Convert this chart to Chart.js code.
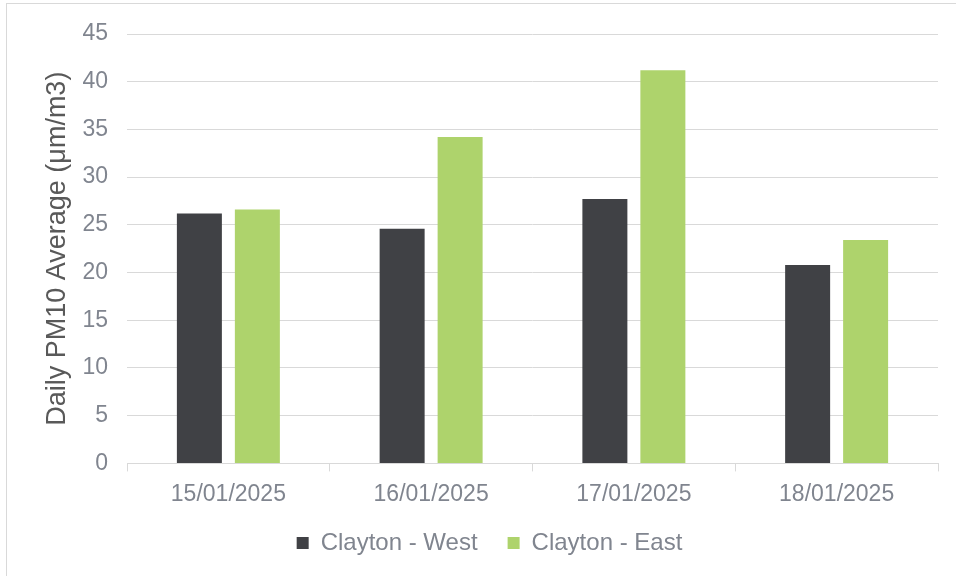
<!DOCTYPE html>
<html>
<head>
<meta charset="utf-8">
<script src="https://cdn.jsdelivr.net/npm/chart.js@4/dist/chart.umd.min.js"></script>
<style>
  html, body { margin: 0; padding: 0; background: #ffffff; }
  #wrap { position: relative; width: 956px; height: 576px; }
</style>
</head>
<body>
<div id="wrap"><canvas id="chart" width="956" height="576"></canvas></div>
<script>
// Daily PM10 averages at the two Clayton monitoring sites
const dates = ['15/01/2025', '16/01/2025', '17/01/2025', '18/01/2025'];
const claytonWest = [26.2, 24.6, 27.7, 20.8];
const claytonEast = [26.6, 34.2, 41.2, 23.4];
const yTicks = [0, 5, 10, 15, 20, 25, 30, 35, 40, 45];

const TEXT = '#80858f';
const GRID = '#d9d9d9';
const FONT = "'Liberation Sans', Arial, sans-serif";

// light frame around the whole figure
const framePlugin = {
  id: 'frame',
  beforeDraw(chart) {
    const ctx = chart.ctx;
    ctx.save();
    ctx.strokeStyle = GRID;
    ctx.lineWidth = 1;
    ctx.strokeRect(6.5, 3.5, 1200, 1200);
    ctx.restore();
  }
};

new Chart(document.getElementById('chart'), {
  type: 'bar',
  data: {
    labels: dates,
    datasets: [
      { label: 'Clayton - West', data: claytonWest, backgroundColor: '#404145',
        categoryPercentage: 0.572, barPercentage: 0.776 },
      { label: 'Clayton - East', data: claytonEast, backgroundColor: '#aed36c',
        categoryPercentage: 0.572, barPercentage: 0.776 }
    ]
  },
  options: {
    responsive: false,
    animation: false,
    devicePixelRatio: 1,
    layout: { padding: { left: 41, right: 18, top: 34, bottom: 11 } },
    plugins: {
      tooltip: { enabled: false },
      legend: {
        position: 'bottom',
        labels: {
          color: TEXT,
          font: { family: FONT, size: 24 },
          boxWidth: 12,
          boxHeight: 12,
          padding: 30
        }
      }
    },
    scales: {
      x: {
        offset: true,
        afterFit(scale) {
          scale.height = scale.height - 16;
        },
        grid: {
          offset: true,
          drawOnChartArea: false,
          drawTicks: true,
          tickLength: 8,
          color: GRID
        },
        border: { display: true, color: GRID, width: 1 },
        ticks: {
          color: TEXT,
          font: { family: FONT, size: 23 },
          padding: 9,
          maxRotation: 0
        }
      },
      y: {
        min: 0,
        max: 45,
        afterBuildTicks(scale) {
          scale.ticks = yTicks.map(v => ({ value: v }));
        },
        afterFit(scale) {
          scale.width = 86;
        },
        grid: { color: GRID, drawTicks: false, lineWidth: 1 },
        border: { display: false },
        ticks: {
          color: TEXT,
          font: { family: FONT, size: 23 },
          padding: 19
        },
        title: {
          display: true,
          text: 'Daily PM10 Average (μm/m3)',
          color: '#595959',
          font: { family: FONT, size: 27 },
          padding: { top: 0, bottom: 0 }
        }
      }
    }
  },
  plugins: [framePlugin]
});
</script>
</body>
</html>
